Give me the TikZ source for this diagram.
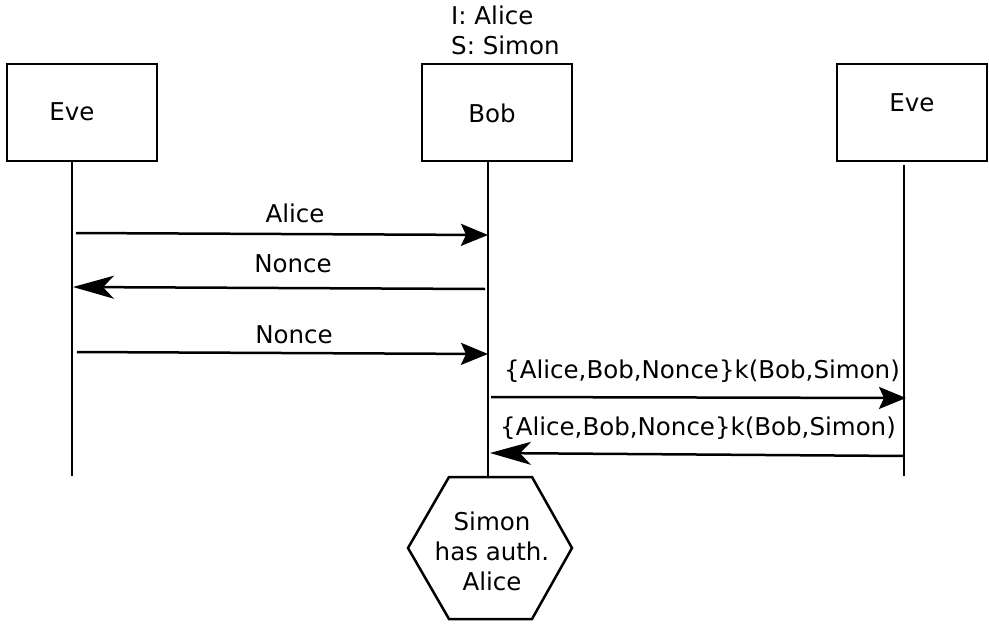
\documentclass[tikz,border=0pt]{standalone}
\usepackage{fontspec}
\setmainfont{DejaVu Sans}
\usetikzlibrary{arrows.meta}
\begin{document}
\begin{tikzpicture}[x=1pt,y=-1pt,
  every node/.style={font=\fontsize{24.5}{30}\selectfont, inner sep=0pt},
  actor/.style={draw, line width=2.5pt, minimum width=150pt, minimum height=97pt},
  life/.style={line width=2.5pt},
  msgR/.style={line width=2.5pt, -{Stealth[length=27pt,width=22pt,inset=5pt]}},
  msgL/.style={line width=2.5pt, -{Stealth[length=41pt,width=23pt,inset=11pt]}},
  lbl/.style={anchor=center}]
\useasboundingbox (0,0) rectangle (989,624);
% participants
\node[actor] (eveL) at (82,112.5) {};
\node at (72,112) {Eve};
\node[actor] (bob) at (497,112.5) {};
\node at (492,113) {Bob};
\node[actor] (eveR) at (912,112.5) {};
\node at (912,103) {Eve};
% role annotation
\node[anchor=west] (roleI) at (451,15) {I: Alice};
\node[anchor=west] (roleS) at (451,45) {S: Simon};
% lifeline anchors
\coordinate (lLt) at (72,161);  \coordinate (lLb) at (72,476);
\coordinate (lBt) at (488,161);
\coordinate (lRt) at (904,165); \coordinate (lRb) at (904,476);
% final state
\draw[line width=2.5pt] (449,477) -- (532,477) -- (572,548) -- (532,619) -- (449,619) -- (408,548) -- cycle;
\coordinate (hexTop) at (488,477);
\node[align=center] (claim) at (492,551) {Simon\\has auth.\\Alice};
\draw[life] (lLt) -- (lLb);
\draw[life] (lBt) -- (hexTop);
\draw[life] (lRt) -- (lRb);
% messages
\coordinate (m1a) at (76,233);  \coordinate (m1b) at (488,235);
\coordinate (m2a) at (485,289); \coordinate (m2b) at (73,287);
\coordinate (m3a) at (77,352);  \coordinate (m3b) at (488,354);
\coordinate (m4a) at (491,397); \coordinate (m4b) at (906,398);
\coordinate (m5a) at (904,456); \coordinate (m5b) at (490,453);
\draw[msgR] (m1a) -- (m1b);
\draw[msgL] (m2a) -- (m2b);
\draw[msgR] (m3a) -- (m3b);
\draw[msgR] (m4a) -- (m4b);
\draw[msgL] (m5a) -- (m5b);
\node[lbl] (t1) at (295,213) {Alice};
\node[lbl] (t2) at (293,264) {Nonce};
\node[lbl] (t3) at (294,335) {Nonce};
\node[lbl] (t4) at (702,371) {\{Alice,Bob,Nonce\}k(Bob,Simon)};
\node[lbl] (t5) at (698,428) {\{Alice,Bob,Nonce\}k(Bob,Simon)};
\end{tikzpicture}
\end{document}
